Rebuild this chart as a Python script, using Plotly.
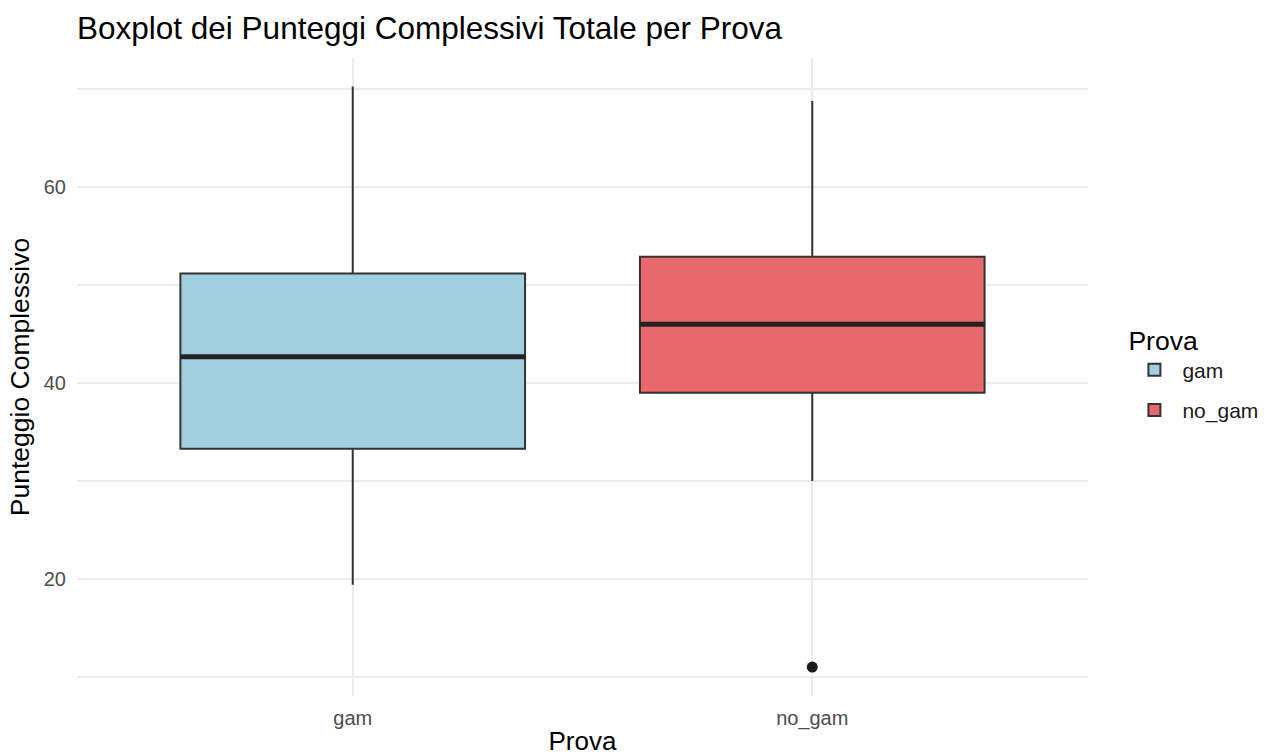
import plotly.graph_objects as go

# Data
categories = ["gam", "no_gam"]
q1_vals = [33.3, 39.0]
median_vals = [42.7, 46.0]
q3_vals = [51.2, 52.9]
lower_whisker = [19.4, 30.0]
upper_whisker = [70.3, 68.8]
outlier_cat = ["no_gam"]
outlier_vals = [11.0]
fill_colors = ["#9FCFE0", "#E9686C"]

box_width = 0.75
line_col = "#333333"
FONT = "Liberation Sans, Arial, Helvetica, sans-serif"

pos = {c: i for i, c in enumerate(categories)}

fig = go.Figure()
for i, c in enumerate(categories):
    fig.add_trace(go.Box(
        x=[pos[c]], q1=[q1_vals[i]], median=[median_vals[i]], q3=[q3_vals[i]],
        lowerfence=[lower_whisker[i]], upperfence=[upper_whisker[i]],
        name=c, legendgroup=c, width=box_width, whiskerwidth=0,
        fillcolor=fill_colors[i], line=dict(color=line_col, width=2),
        boxpoints=False, hoverinfo="skip",
    ))
    # thicker median line as in ggplot
    fig.add_trace(go.Scatter(
        x=[pos[c] - box_width / 2, pos[c] + box_width / 2],
        y=[median_vals[i], median_vals[i]],
        mode="lines", line=dict(color="#222222", width=5),
        showlegend=False, hoverinfo="skip", legendgroup=c,
    ))

fig.add_trace(go.Scatter(
    x=[pos[c] for c in outlier_cat], y=outlier_vals, mode="markers",
    marker=dict(color="#1A1A1A", size=11), showlegend=False, hoverinfo="skip",
))

fig.update_layout(
    width=1268, height=756, autosize=False,
    margin=dict(l=77, r=180, t=58, b=60, autoexpand=False),
    paper_bgcolor="white", plot_bgcolor="white",
    boxmode="overlay",
    font=dict(family=FONT, color="#000000"),
    title=dict(text="Boxplot dei Punteggi Complessivi Totale per Prova",
               x=77 / 1268, xanchor="left", xref="container",
               y=1 - 28 / 756, yanchor="middle", yref="container",
               font=dict(size=31.5, color="#000000")),
    xaxis=dict(
        range=[-0.6, 1.6], tickmode="array", automargin=False,
        tickvals=[pos[c] for c in categories], ticktext=categories,
        showgrid=True, gridcolor="#EBEBEB", gridwidth=2,
        zeroline=False, showline=False, ticks="",
        tickfont=dict(size=20, color="#4D4D4D"), ticklabelstandoff=8,
        title=dict(text="Prova", font=dict(size=26, color="#000000"), standoff=6),
    ),
    yaxis=dict(
        range=[8.04, 73.2], tickmode="linear", tick0=0, dtick=20, automargin=False,
        showgrid=True, gridcolor="#EBEBEB", gridwidth=2,
        minor=dict(dtick=10, tick0=0, showgrid=True, gridcolor="#EBEBEB", gridwidth=1.5),
        zeroline=False, showline=False, ticks="",
        tickfont=dict(size=20, color="#4D4D4D"), ticklabelstandoff=10,
        title=dict(text="Punteggio Complessivo", font=dict(size=26.5, color="#000000"), standoff=6),
    ),
    legend=dict(
        title=dict(text="Prova", font=dict(size=26.5, color="#000000")),
        font=dict(size=21, color="#1A1A1A"),
        x=1.038, xanchor="left", y=0.597, yanchor="top",
        bgcolor="rgba(0,0,0,0)", itemsizing="constant", itemwidth=46,
        tracegroupgap=10,
    ),
)

fig.write_html(
    "out.html",
    config={"displayModeBar": False},
    post_script="document.body.style.margin='0px';document.body.style.overflow='hidden';",
)
